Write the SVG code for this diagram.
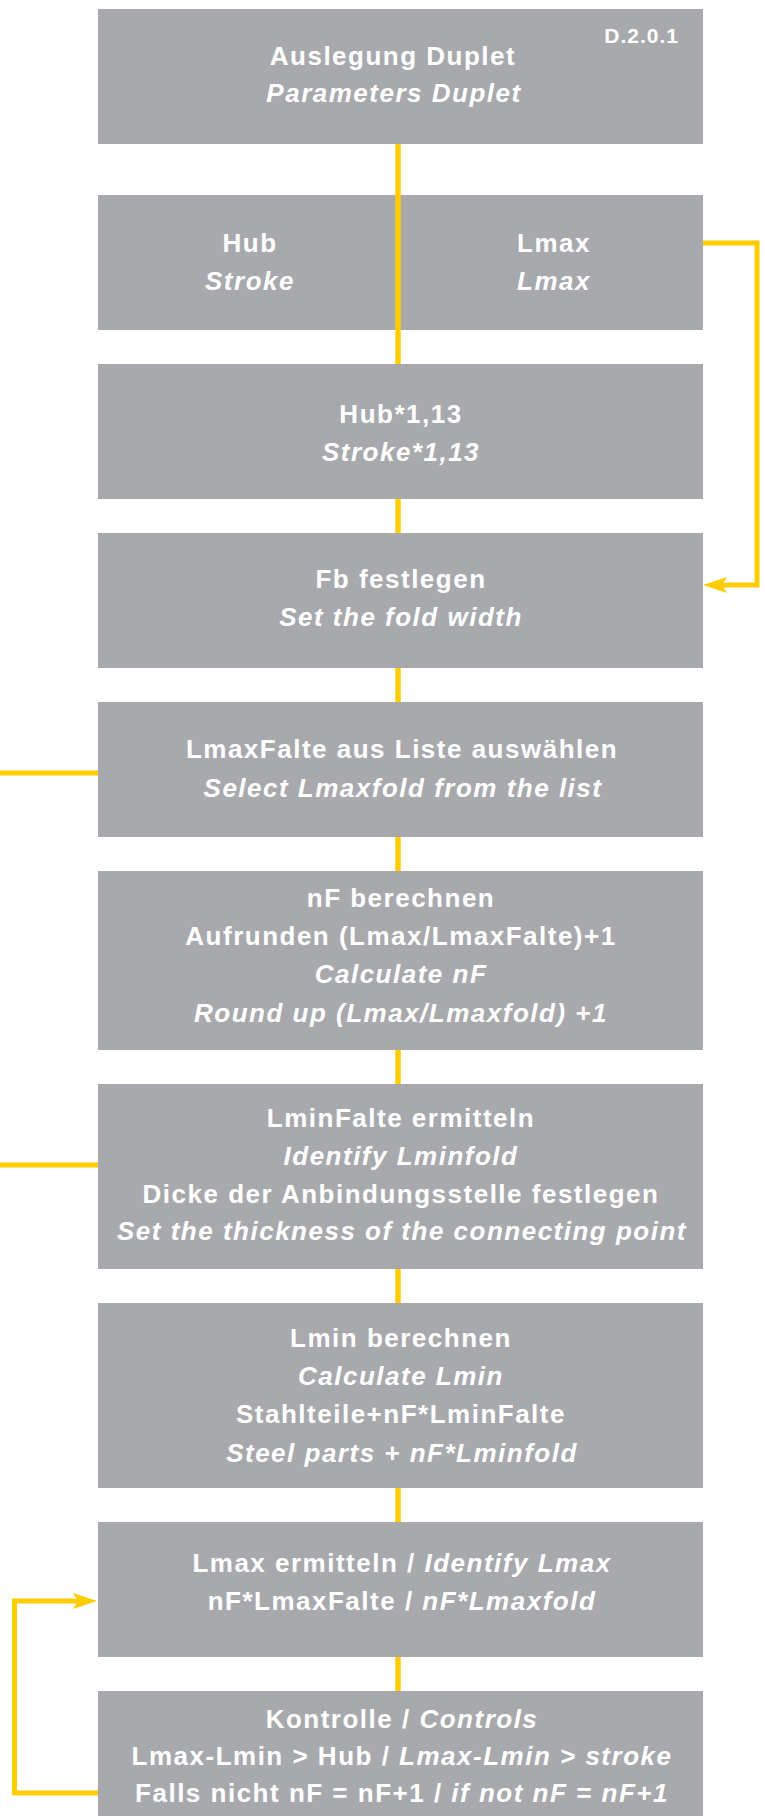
<svg xmlns="http://www.w3.org/2000/svg" width="765" height="1816" viewBox="0 0 765 1816">
<style>
.box{fill:#a8a9ad}
.t{font-family:"Liberation Sans",Arial,sans-serif;font-weight:bold;font-size:26px;letter-spacing:1.5px;fill:#ffffff;text-anchor:middle}
.i{font-style:italic}
.code{font-family:"Liberation Sans",Arial,sans-serif;font-weight:bold;font-size:21px;letter-spacing:1px;fill:#ffffff;text-anchor:end}
.ln{fill:none;stroke:#ffcc00;stroke-width:5;stroke-linejoin:miter}
.ctr{stroke-width:5.5}
</style>
<defs>
<marker id="arr" markerUnits="userSpaceOnUse" markerWidth="24" markerHeight="16" refX="5" refY="8" orient="auto" viewBox="0 0 24 16">
<path d="M0,0 L24,8 L0,16 L5,8 Z" fill="#ffcc00"/>
</marker>
</defs>
<rect width="765" height="1816" fill="#ffffff"/>
<g id="n1"><rect class="box" x="98" y="9" width="605" height="135"/>
<text class="t" x="393" y="65">Auslegung Duplet</text>
<text class="t i" x="394" y="102">Parameters Duplet</text>
<text class="code" x="679" y="43">D.2.0.1</text></g>
<g id="n2"><rect class="box" x="98" y="195" width="605" height="135"/>
<text class="t" x="250" y="252">Hub</text>
<text class="t i" x="250" y="290">Stroke</text>
<text class="t" x="554" y="252">Lmax</text>
<text class="t i" x="554" y="290">Lmax</text></g>
<g id="n3"><rect class="box" x="98" y="364" width="605" height="135"/>
<text class="t" x="401" y="423">Hub*1,13</text>
<text class="t i" x="401" y="461">Stroke*1,13</text></g>
<g id="n4"><rect class="box" x="98" y="533" width="605" height="135"/>
<text class="t" x="401" y="588">Fb festlegen</text>
<text class="t i" x="401" y="626">Set the fold width</text></g>
<g id="n5"><rect class="box" x="98" y="702" width="605" height="135"/>
<text class="t" x="402" y="758">LmaxFalte aus Liste auswählen</text>
<text class="t i" x="403" y="797">Select Lmaxfold from the list</text></g>
<g id="n6"><rect class="box" x="98" y="871" width="605" height="179"/>
<text class="t" x="401" y="907">nF berechnen</text>
<text class="t" x="401" y="945">Aufrunden (Lmax/LmaxFalte)+1</text>
<text class="t i" x="401" y="983">Calculate nF</text>
<text class="t i" x="401" y="1022">Round up (Lmax/Lmaxfold) +1</text></g>
<g id="n7"><rect class="box" x="98" y="1084" width="605" height="185"/>
<text class="t" x="401" y="1127">LminFalte ermitteln</text>
<text class="t i" x="401" y="1165">Identify Lminfold</text>
<text class="t" x="401" y="1203">Dicke der Anbindungsstelle festlegen</text>
<text class="t i" x="402" y="1240">Set the thickness of the connecting point</text></g>
<g id="n8"><rect class="box" x="98" y="1303" width="605" height="185"/>
<text class="t" x="401" y="1347">Lmin berechnen</text>
<text class="t i" x="401" y="1385">Calculate Lmin</text>
<text class="t" x="401" y="1423">Stahlteile+nF*LminFalte</text>
<text class="t i" x="402" y="1462">Steel parts + nF*Lminfold</text></g>
<g id="n9"><rect class="box" x="98" y="1522" width="605" height="135"/>
<text class="t" x="402" y="1572">Lmax ermitteln / <tspan class="i">Identify Lmax</tspan></text>
<text class="t" x="402" y="1610">nF*LmaxFalte / <tspan class="i">nF*Lmaxfold</tspan></text></g>
<g id="n10"><rect class="box" x="98" y="1691" width="605" height="125"/>
<text class="t" x="402" y="1728">Kontrolle / <tspan class="i">Controls</tspan></text>
<text class="t" x="402" y="1765">Lmax-Lmin &gt; Hub / <tspan class="i">Lmax-Lmin &gt; stroke</tspan></text>
<text class="t" x="402" y="1802">Falls nicht nF = nF+1 / <tspan class="i">if not nF = nF+1</tspan></text></g>
<g id="connectors">
<path class="ln ctr" d="M398,144 V364"/>
<path class="ln ctr" d="M398,499 V533"/>
<path class="ln ctr" d="M398,668 V702"/>
<path class="ln ctr" d="M398,837 V871"/>
<path class="ln ctr" d="M398,1050 V1084"/>
<path class="ln ctr" d="M398,1269 V1303"/>
<path class="ln ctr" d="M398,1488 V1522"/>
<path class="ln ctr" d="M398,1657 V1691"/>
<path class="ln" d="M703,243 H757 V585 H722" marker-end="url(#arr)"/>
<path class="ln" d="M0,773 H98"/>
<path class="ln" d="M0,1165 H98"/>
<path class="ln" d="M98,1793 H14.5 V1601 H78" marker-end="url(#arr)"/>
</g>
</svg>
